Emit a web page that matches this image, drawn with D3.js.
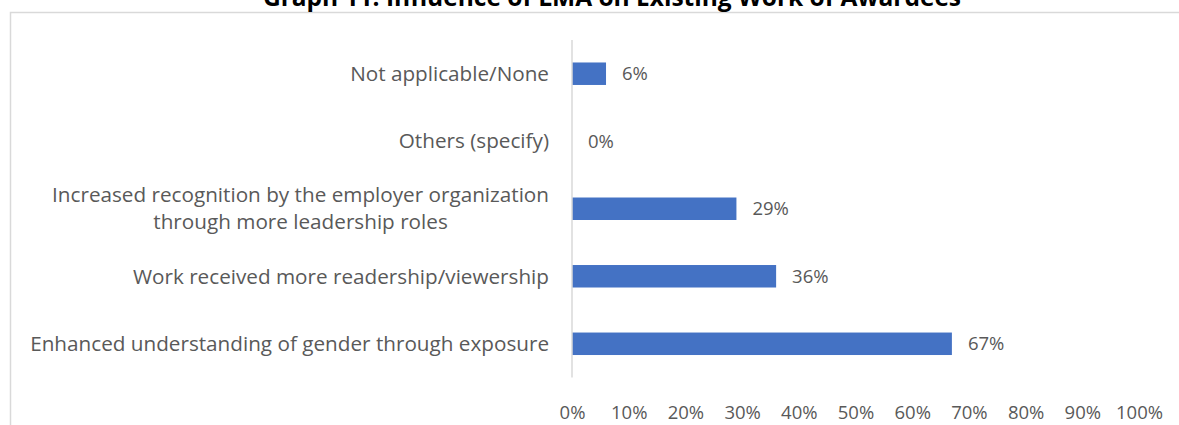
<!DOCTYPE html>
<html>
<head>
<meta charset="utf-8">
<script src="https://cdn.jsdelivr.net/npm/d3@7/dist/d3.min.js"></script>
<style>
  html, body { margin: 0; padding: 0; background: #ffffff; }
  svg { display: block; }
</style>
</head>
<body>
<svg id="chart" width="1179" height="425"></svg>
<script>
// Survey responses: share of awardees reporting each influence
const categories = [
  "Not applicable/None",
  "Others (specify)",
  "Increased recognition by the employer organization\nthrough more leadership roles",
  "Work received more readership/viewership",
  "Enhanced understanding of gender through exposure"
];
const values = [0.06, 0.00, 0.29, 0.36, 0.67];
const tickValues = [0, 0.1, 0.2, 0.3, 0.4, 0.5, 0.6, 0.7, 0.8, 0.9, 1.0];
const title = "Graph 11: Influence of LMA on Existing Work of Awardees";

const W = 1179, H = 425;
const font = "'Open Sans', sans-serif";
const labelColor = "#595959";
const barColor = "#4472C4";
const gridColor = "#d9d9d9";

const svg = d3.select("#chart");

// Outer chart-area frame (only top and left edges fall inside the view)
svg.append("rect")
  .attr("x", 10.5).attr("y", 12.5)
  .attr("width", W + 20).attr("height", H + 20)
  .attr("fill", "none")
  .attr("stroke", gridColor)
  .attr("stroke-width", 1.5);

// Title
svg.append("text")
  .attr("x", 612).attr("y", 6)
  .attr("text-anchor", "middle")
  .attr("font-family", font)
  .attr("font-weight", "bold")
  .attr("font-size", 24.5)
  .attr("fill", "#000000")
  .text(title);

const x = d3.scaleLinear().domain([0, 1]).range([572, 1139]);
const y = d3.scaleBand()
  .domain(categories)
  .range([40, 377.5])
  .paddingInner(0.667)
  .paddingOuter(0.333);

// Value axis labels along the bottom
const xAxis = d3.axisBottom(x)
  .tickValues(tickValues)
  .tickFormat(d3.format(".0%"))
  .tickSize(0)
  .tickPadding(0);

const gx = svg.append("g")
  .attr("transform", "translate(0,419)")
  .call(xAxis);
gx.select(".domain").remove();
gx.selectAll("text")
  .attr("font-family", font)
  .attr("font-size", 18.5)
  .attr("fill", labelColor)
  .attr("y", 0)
  .attr("dy", 0);

// Bars
svg.append("g")
  .selectAll("rect")
  .data(values)
  .join("rect")
  .attr("x", x(0))
  .attr("y", (d, i) => y(categories[i]))
  .attr("width", d => x(d) - x(0))
  .attr("height", y.bandwidth())
  .attr("fill", barColor);

// Category axis line
svg.append("line")
  .attr("x1", x(0)).attr("x2", x(0))
  .attr("y1", y.range()[0]).attr("y2", y.range()[1])
  .attr("stroke", gridColor)
  .attr("stroke-width", 1.5);

// Data labels
svg.append("g")
  .selectAll("text")
  .data(values)
  .join("text")
  .attr("x", d => x(d) + 16)
  .attr("y", (d, i) => y(categories[i]) + y.bandwidth() / 2)
  .attr("dy", "0.35em")
  .attr("font-family", font)
  .attr("font-size", 18.5)
  .attr("fill", labelColor)
  .text(d => d3.format(".0%")(d));

// Category labels: right-aligned blocks, lines centred within a block
const labelRight = 549;
const lineGap = 27;
const catG = svg.append("g");
categories.forEach(cat => {
  const lines = cat.split("\n");
  const cy = y(cat) + y.bandwidth() / 2;
  const t = catG.append("text")
    .attr("font-family", font)
    .attr("font-size", 20.7)
    .attr("fill", labelColor)
    .attr("text-anchor", "middle");
  const spans = lines.map((ln, k) => t.append("tspan")
    .attr("y", cy + (k - (lines.length - 1) / 2) * lineGap)
    .attr("dy", "0.35em")
    .text(ln));
  const maxW = d3.max(spans, s => s.node().getComputedTextLength());
  spans.forEach(s => s.attr("x", labelRight - maxW / 2));
});
</script>
</body>
</html>
